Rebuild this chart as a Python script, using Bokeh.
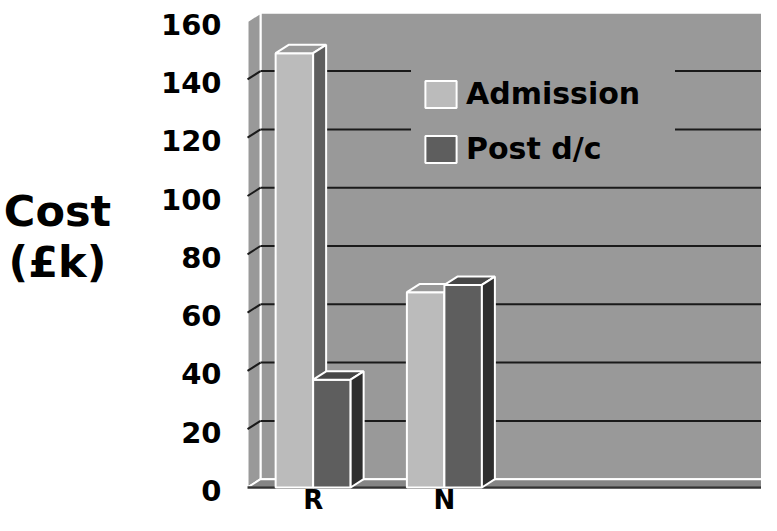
from bokeh.plotting import figure
from bokeh.models import ColumnDataSource, Range1d, Legend, LegendItem
from bokeh.core.properties import value
from bokeh.embed import file_html
from bokeh.resources import INLINE

# ---- data ----
categories = ["R", "N"]
series_names = ["Admission", "Post d/c"]
admission = [149, 67]
post_dc = [37, 69.5]
y_ticks = [0, 20, 40, 60, 80, 100, 120, 140, 160]
y_title = ["Cost", "(£k)"]

# ---- layout / style constants ----
N_SLOTS = 4            # category slots along the floor
BAR_W = 1 / 3.5        # bar width (gap width 150%)
DX = 0.099             # 3-D depth offset along x (data units)
DY = 2.85              # 3-D depth offset along y (data units)
Y_TOP = y_ticks[-1]
FONT = "DejaVu Sans"
WALL = "#999999"
FLOOR = "#858585"
GRID = "#1a1a1a"
ADM_COLORS = ("#bbbbbb", "#999999", "#5e5e5e")   # front, top, side
POST_COLORS = ("#5e5e5e", "#474747", "#2e2e2e")

p = figure(width=761, height=515, output_backend="svg", toolbar_location=None,
           x_range=Range1d(-1.882, 3.916), y_range=Range1d(-9.605, 167.07),
           x_axis_location=None, y_axis_location=None,
           min_border_left=0, min_border_right=0, min_border_top=0, min_border_bottom=0,
           background_fill_color="white", border_fill_color="white", outline_line_color=None)
for g in p.grid:
    g.visible = False

# ---- walls and floor ----
p.patch([DX, N_SLOTS + DX, N_SLOTS + DX, DX], [DY, DY, Y_TOP + DY, Y_TOP + DY],
        fill_color=WALL, line_color="white", line_width=2)
p.patch([0, DX, DX, 0], [0, DY, Y_TOP + DY, Y_TOP],
        fill_color=WALL, line_color="white", line_width=2)
p.patch([0, N_SLOTS, N_SLOTS + DX, DX], [0, 0, DY, DY],
        fill_color=FLOOR, line_color="white", line_width=2)
p.line([0, N_SLOTS], [0, 0], line_color="#333333", line_width=2.5)

# gridlines on back and side walls
gv = y_ticks[1:-1]
p.segment(x0=[DX] * len(gv), y0=[v + DY for v in gv], x1=[N_SLOTS + DX] * len(gv),
          y1=[v + DY for v in gv], line_color=GRID, line_width=2)
p.segment(x0=[0] * len(gv), y0=gv, x1=[DX] * len(gv), y1=[v + DY for v in gv],
          line_color=GRID, line_width=2)

# y tick labels (front plane of the value axis)
tick_src = ColumnDataSource(dict(x=[-0.198] * len(y_ticks), y=y_ticks,
                                 t=[str(t) for t in y_ticks]))
p.text(x="x", y="y", text="t", source=tick_src, text_align="right", text_baseline="middle",
       y_offset=3, text_font=value(FONT), text_font_style="bold", text_font_size="29px",
       text_color="black")

# value axis title, horizontal on two lines
title_src = ColumnDataSource(dict(x=[-1.448, -1.448], y=[95.0, 77.4], t=y_title))
p.text(x="x", y="y", text="t", source=title_src, text_align="center",
       text_baseline="middle", text_font=value(FONT), text_font_style="bold",
       text_font_size="43px", text_color="black")


def draw_series(vals, offset, colors):
    lefts = [i + offset for i in range(len(vals))]
    rights = [l + BAR_W for l in lefts]
    front = p.quad(left=lefts, right=rights, bottom=[0] * len(vals), top=vals,
                   fill_color=colors[0], line_color="white", line_width=2)
    top_xs = [[l, r, r + DX, l + DX] for l, r in zip(lefts, rights)]
    top_ys = [[v, v, v + DY, v + DY] for v in vals]
    p.patches(top_xs, top_ys, fill_color=colors[1], line_color="white", line_width=2)
    side_xs = [[r, r + DX, r + DX, r] for r in rights]
    side_ys = [[0, DY, v + DY, v] for v in vals]
    p.patches(side_xs, side_ys, fill_color=colors[2], line_color="white", line_width=2)
    return front


adm_r = draw_series(admission, 0.5 - BAR_W, ADM_COLORS)
post_r = draw_series(post_dc, 0.5, POST_COLORS)

# category labels
cat_src = ColumnDataSource(dict(x=[i + 0.5 for i in range(len(categories))],
                                y=[-4.29] * len(categories), t=categories))
p.text(x="x", y="y", text="t", source=cat_src, text_align="center", text_baseline="middle",
       text_font=value(FONT), text_font_style="bold", text_font_size="26px", text_color="black")

legend = Legend(items=[LegendItem(label=series_names[0], renderers=[adm_r]),
                       LegendItem(label=series_names[1], renderers=[post_r])],
                location=(411, 339), background_fill_color=WALL, background_fill_alpha=1,
                border_line_color=WALL, border_line_width=1,
                label_text_font=FONT, label_text_font_style="bold",
                label_text_font_size="30px", label_text_color="black",
                glyph_width=39, glyph_height=34, label_standoff=6, padding=9,
                spacing=20, label_height=27, label_width=199, margin=0)
p.add_layout(legend)

open("out.html", "w").write(file_html(p, INLINE))
